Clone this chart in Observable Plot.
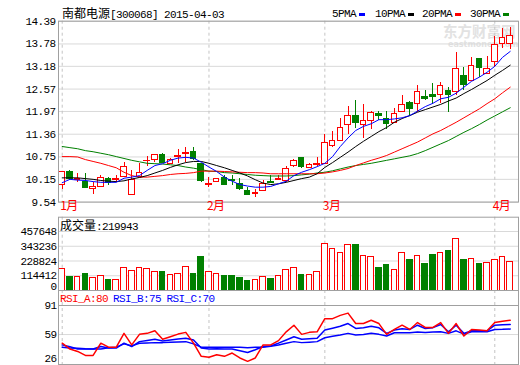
<!DOCTYPE html>
<html><head><meta charset="utf-8">
<script src="https://cdn.jsdelivr.net/npm/d3@7"></script>
<script src="https://cdn.jsdelivr.net/npm/@observablehq/plot@0.6"></script>
<style>
body{margin:0;background:#fff}
#c{position:relative;width:520px;height:365px;overflow:hidden;background:#fff}
#c svg{position:absolute;left:0;top:0}
.t{position:absolute;white-space:nowrap;font-family:"Liberation Mono",monospace;font-size:11px;letter-spacing:-0.6px;line-height:12px;color:#000}
.k{font-family:"Noto Sans CJK SC";letter-spacing:0;font-size:12px}
.sw{position:absolute;width:6px;height:3px}
.wm{position:absolute;white-space:nowrap;color:#e2e2e2;font-family:"Noto Sans CJK SC";font-weight:bold}
</style></head><body><div id="c">
<div class="wm" style="left:443px;top:23px;font-size:14.5px;line-height:16px">东方财富网</div>
<div class="wm" style="left:448px;top:40px;font-size:8px;line-height:9px;font-family:'DejaVu Sans'">eastmoney.com</div>
</div>
<script>
// ---- data ----
const open  = [10.00,10.36,10.13,10.09,9.90,9.94,10.17,10.13,10.21,9.74,10.21,10.63,10.68,10.79,10.57,10.75,10.84,10.88,10.55,10.00,10.07,10.19,10.12,10.03,9.85,9.77,9.83,10.07,10.14,10.10,10.50,10.72,10.46,10.54,10.57,11.04,11.19,11.61,11.84,11.61,11.71,11.90,11.78,11.67,11.96,12.19,12.16,12.35,12.40,12.42,12.53,12.49,12.92,12.80,13.37,12.98,13.29,13.79,13.77];
const close = [10.34,10.17,10.16,9.91,9.94,10.18,10.06,10.15,10.48,10.12,10.31,10.64,10.79,10.58,10.68,10.78,10.86,10.70,10.10,10.03,10.15,10.01,10.10,9.88,9.74,9.79,10.03,10.05,10.15,10.43,10.63,10.48,10.54,10.56,11.13,11.19,11.53,11.85,11.66,11.71,11.94,11.86,11.64,11.89,12.13,12.03,12.48,12.31,12.36,12.64,12.40,13.12,12.67,13.20,13.14,13.12,13.76,13.94,13.99];
const high  = [10.34,10.38,10.30,10.30,10.07,10.24,10.19,10.25,10.59,10.39,10.57,10.76,10.82,10.85,10.72,10.94,11.00,11.00,10.58,10.21,10.17,10.25,10.24,10.17,9.94,9.87,10.12,10.24,10.24,10.50,10.68,10.74,10.58,10.74,11.35,11.43,11.79,12.09,12.27,12.16,11.98,11.96,11.97,12.04,12.39,12.25,12.67,12.53,12.71,12.74,12.60,13.56,13.16,13.43,13.37,13.45,13.98,14.20,14.22];
const low   = [9.87,10.12,10.07,9.90,9.74,9.92,9.99,10.07,10.20,9.73,10.20,10.50,10.61,10.57,10.55,10.57,10.61,10.66,10.07,9.94,10.07,9.99,9.99,9.85,9.74,9.66,9.83,10.05,10.14,10.07,10.48,10.44,10.46,10.50,10.57,11.01,11.19,11.35,11.51,11.24,11.48,11.73,11.49,11.66,11.94,11.84,11.94,12.27,12.16,12.18,11.95,12.40,12.53,12.78,12.89,12.96,13.16,13.65,13.63];
const volume = [165600,106000,106000,127000,99000,112000,81000,81000,171000,150000,171000,163000,140000,140000,119000,127000,181000,127000,258000,140000,125000,112000,112000,99000,73000,81000,104000,89000,112000,156000,171000,119000,119000,140000,364000,320000,287000,356000,351000,266000,256000,176000,196000,158000,294000,235000,266000,204000,273000,287000,304000,402000,235000,243000,204000,217000,235000,256000,219943];
const ma5  = [10.06,10.15,10.13,10.12,10.09,10.07,10.07,10.07,10.18,10.21,10.25,10.39,10.52,10.57,10.66,10.72,10.74,10.72,10.61,10.48,10.36,10.21,10.10,10.01,9.97,9.94,9.94,9.96,10.03,10.10,10.25,10.34,10.41,10.49,10.58,10.76,11.03,11.26,11.46,11.57,11.64,11.75,11.75,11.77,11.80,11.86,11.98,12.10,12.19,12.31,12.35,12.46,12.62,12.78,12.89,13.02,13.18,13.42,13.58];
const ma10 = [10.19,10.19,10.19,10.17,10.15,10.12,10.10,10.09,10.11,10.16,10.20,10.25,10.32,10.39,10.47,10.54,10.60,10.63,10.63,10.58,10.52,10.46,10.39,10.32,10.24,10.14,10.05,10.01,10.03,10.07,10.12,10.17,10.21,10.30,10.47,10.60,10.74,10.88,11.03,11.17,11.30,11.43,11.54,11.68,11.78,11.86,11.95,12.02,12.09,12.16,12.25,12.33,12.45,12.56,12.68,12.80,12.94,13.07,13.21];
const ma20 = [10.76,10.76,10.75,10.68,10.63,10.58,10.52,10.46,10.34,10.25,10.21,10.21,10.23,10.25,10.28,10.30,10.31,10.33,10.37,10.37,10.37,10.36,10.35,10.34,10.33,10.33,10.32,10.30,10.30,10.30,10.30,10.30,10.30,10.30,10.32,10.35,10.39,10.44,10.52,10.59,10.66,10.72,10.79,10.88,10.97,11.06,11.15,11.26,11.37,11.46,11.57,11.68,11.80,11.92,12.04,12.18,12.31,12.47,12.62];
const ma30 = [11.03,11.00,10.97,10.92,10.89,10.85,10.81,10.76,10.71,10.66,10.62,10.58,10.57,10.56,10.54,10.52,10.48,10.45,10.41,10.37,10.36,10.33,10.32,10.30,10.28,10.26,10.25,10.24,10.24,10.24,10.25,10.27,10.29,10.32,10.34,10.38,10.43,10.48,10.52,10.55,10.58,10.62,10.66,10.70,10.74,10.78,10.84,10.92,11.01,11.10,11.19,11.30,11.41,11.51,11.62,11.74,11.85,11.96,12.07];
const rsiA = [49.5,43.0,40.4,36.0,36.0,49.5,45.1,45.1,60.3,47.6,59.2,60.3,63.1,53.8,56.6,59.5,61.4,49.5,35.0,33.9,36.8,35.0,38.6,33.2,29.5,33.2,47.6,47.6,52.3,62.0,69.3,59.2,61.4,62.0,76.5,76.5,80.1,82.6,71.1,71.1,74.7,71.1,59.2,64.6,69.3,64.6,72.2,66.8,66.8,72.2,60.3,71.1,57.4,64.6,63.9,63.1,72.2,73.6,74.7];
const rsiB = [47.6,45.5,43.0,43.0,43.0,45.8,44.1,44.1,49.5,45.8,51.2,52.5,53.8,52.0,53.0,54.1,54.9,53.0,44.1,43.0,43.3,43.0,43.0,41.1,39.3,42.2,45.8,46.5,49.5,53.0,56.6,53.8,54.5,54.9,63.9,66.0,68.2,71.1,65.7,66.6,68.2,66.4,60.3,63.9,65.5,64.6,69.3,65.7,66.6,70.0,62.0,69.3,60.3,63.1,63.1,63.1,69.3,69.8,70.0];
const rsiC = [45.1,44.1,43.8,43.3,43.0,43.0,44.4,45.1,48.7,46.5,49.5,49.8,50.1,50.1,50.6,50.9,51.2,48.7,45.1,45.1,45.1,45.1,45.1,44.9,44.4,45.1,45.1,46.0,47.6,49.5,51.2,50.1,50.6,51.2,55.5,57.1,58.5,60.3,58.5,59.0,60.3,59.2,57.4,61.0,61.0,61.0,61.7,61.2,61.7,62.0,60.3,63.1,59.5,62.0,62.0,62.0,64.6,64.7,65.0];
const priceTicks = [9.54,10.15,10.75,11.36,11.97,12.57,13.18,13.78,14.39];
const volTicks = [0,114412,228824,343236,457648];
const rsiTicks = [26,59,91];
const monthLabels = ["1月","2月","3月","4月"];
const monthStart = [0,19,34,56];
const legendNames = ["5PMA","10PMA","20PMA","30PMA"];
const rsiNames = ["RSI_A:80","RSI_B:75","RSI_C:70"];
const volTitle = "成交量";
const volLast = "219943";

// ---- build ----
const RED="#ff0000", GREEN="#008000", BLUE="#0000ff", BLACK="#000000";
const idx = open.map((_, i) => i);
const candles = idx.map(i => ({i, o: open[i], c: close[i], h: high[i], l: low[i], v: volume[i], up: close[i] >= open[i]}));
const W = 520, H = 365;
const X = {domain: [-0.48, 59.07], axis: null};
const common = {width: W, height: H, marginLeft: 58, marginRight: 2, color: {type: "identity"},
  style: {background: "transparent", overflow: "visible", fontFamily: "Liberation Mono, monospace", fontSize: "11px", letterSpacing: "-0.6px", color: "#000"}};
const grid = "#d9d9d9", border = "#a0a0a0";
const dashed = Plot.ruleX(monthStart, {stroke: "#c4c4c4", strokeDasharray: "3,3"});
const col = d => d.up ? RED : GREEN;
const bodyOpts = {x1: d => d.i - 0.36, x2: d => d.i + 0.36, fill: d => d.up ? "white" : GREEN, stroke: col, shapeRendering: "crispEdges"};
const maLine = (arr, c) => Plot.line(idx, {x: d => d, y: i => arr[i], stroke: c, strokeWidth: 1});

const main = Plot.plot({...common, marginTop: 20.7, marginBottom: H - 201.6,
  x: X, y: {domain: [9.54, 14.39], axis: null},
  marks: [
    Plot.ruleY(priceTicks, {stroke: grid}),
    dashed,
    Plot.ruleX(candles, {x: "i", y1: "l", y2: "h", stroke: col, shapeRendering: "crispEdges"}),
    Plot.rect(candles, {...bodyOpts, y1: "o", y2: "c"}),
    maLine(ma30, GREEN), maLine(ma20, RED), maLine(ma10, BLACK), maLine(ma5, BLUE),
    Plot.frame({stroke: border}),
    Plot.text(priceTicks, {y: d => d, text: d => d.toFixed(2), frameAnchor: "left", textAnchor: "end", dx: -3, fill: "black"}),
    Plot.text(monthStart, {x: d => d, text: (d, i) => monthLabels[i], frameAnchor: "bottom", dy: 8, dx: -2, textAnchor: "start", fill: RED, fontFamily: "Noto Sans CJK SC", fontSize: 12})
  ]});

const volTop = 457648 * (290 - 216.7) / (290 - 231);
const vol = Plot.plot({...common, marginTop: 216.7, marginBottom: H - 290,
  x: X, y: {domain: [0, volTop], axis: null},
  marks: [
    Plot.ruleY(volTicks.slice(1), {stroke: grid}),
    dashed,
    Plot.rect(candles, {...bodyOpts, y1: 0, y2: "v"}),
    Plot.frame({stroke: border}),
    Plot.text(volTicks.slice(1), {y: d => d, text: d => String(d), frameAnchor: "left", textAnchor: "end", dx: -2, fill: "black"}),
    Plot.text(volTicks.slice(0, 1), {y: d => d, text: d => String(d), frameAnchor: "left", textAnchor: "end", dx: -2, dy: -4, fill: "black"})
  ]});

const rsiTop = 26 + (91 - 26) * (364 - 290) / (364 - 305);
const rsi = Plot.plot({...common, marginTop: 290, marginBottom: H - 364,
  x: X, y: {domain: [26, rsiTop], axis: null},
  marks: [
    Plot.ruleY([59], {stroke: grid}),
    Plot.ruleY([91], {stroke: border}),
    dashed,
    Plot.line(idx, {x: d => d, y: i => rsiC[i], stroke: BLUE}),
    Plot.line(idx, {x: d => d, y: i => rsiB[i], stroke: BLUE}),
    Plot.line(idx, {x: d => d, y: i => rsiA[i], stroke: RED}),
    Plot.frame({stroke: border}),
    Plot.text(rsiTicks.slice(1), {y: d => d, text: d => String(d), frameAnchor: "left", textAnchor: "end", dx: -2, fill: "black"}),
    Plot.text(rsiTicks.slice(0, 1), {y: d => d, text: d => String(d), frameAnchor: "left", textAnchor: "end", dx: -2, dy: -6, fill: "black"})
  ]});

const c = document.getElementById("c");
c.append(main, vol, rsi);

function span(html, left, top, color, cls) {
  const s = document.createElement("div");
  s.className = "t" + (cls ? " " + cls : "");
  s.style.left = left + "px"; s.style.top = top + "px";
  if (color) s.style.color = color;
  s.innerHTML = html;
  c.append(s);
  return s;
}
span('<span class="k">南都电源</span>[300068] 2015-04-03', 62, 7);
const legX = [332, 375, 422, 470], swX = [359, 407.5, 455, 502.5], legC = [BLUE, BLACK, RED, GREEN];
legendNames.forEach((n, i) => {
  span(n, legX[i], 8);
  const sw = document.createElement("div");
  sw.className = "sw"; sw.style.left = swX[i] + "px"; sw.style.top = "12.5px"; sw.style.background = legC[i];
  c.append(sw);
});
span('<span class="k">' + volTitle + '</span>:' + volLast, 60, 219);
const rsiX = [60, 113, 166.5], rsiC2 = [RED, BLUE, BLUE];
rsiNames.forEach((n, i) => span(n, rsiX[i], 293, rsiC2[i]));
</script></body></html>
